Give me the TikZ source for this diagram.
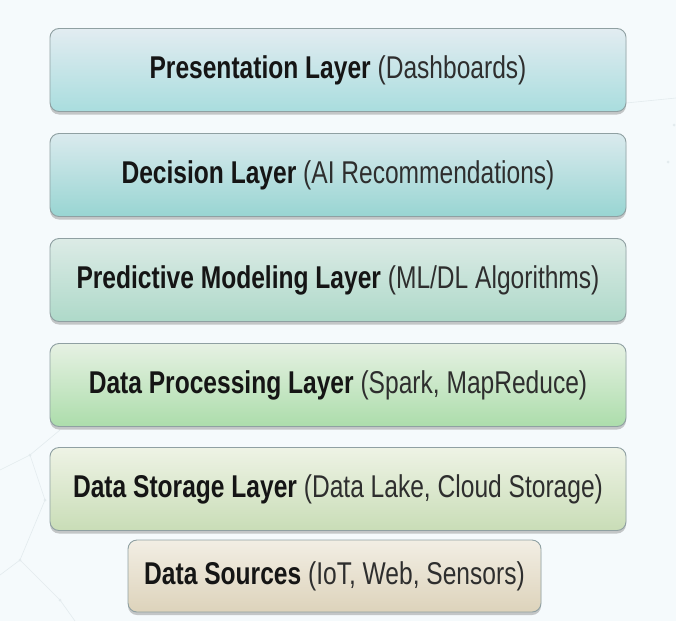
\documentclass[tikz,border=0pt]{standalone}
\usepackage{fontspec}
\newfontfamily\condfont[FakeStretch=0.78]{Liberation Sans}
\usetikzlibrary{shadows}
\definecolor{bgcol}{HTML}{F5FAFC}
\definecolor{bordercol}{HTML}{8FA0A2}
\definecolor{txtdark}{HTML}{151515}
\definecolor{txtreg}{HTML}{2E2E2E}
\definecolor{netcol}{HTML}{E3EBEE}
\definecolor{aT}{HTML}{E2ECF1}\definecolor{aB}{HTML}{A9DDDE}
\definecolor{bT}{HTML}{DAEAEE}\definecolor{bB}{HTML}{98D5D2}
\definecolor{cT}{HTML}{DCEBE6}\definecolor{cB}{HTML}{AED9C9}
\definecolor{dT}{HTML}{E6F1E3}\definecolor{dB}{HTML}{ACDDAB}
\definecolor{eT}{HTML}{EEF3E5}\definecolor{eB}{HTML}{C9DDB7}
\definecolor{fT}{HTML}{F2EEE4}\definecolor{fB}{HTML}{DDD3BB}
\tikzset{
  layerbox/.style={rounded corners=9pt, draw=bordercol, line width=0.9pt,
    minimum width=576pt, minimum height=83pt, inner sep=0pt,
    font=\condfont\fontsize{31.5}{34}\selectfont, text=txtreg,
    drop shadow={shadow xshift=0pt, shadow yshift=-3pt, opacity=0.35, fill=black!60}},
  netline/.style={draw=netcol, line width=0.6pt},
  netdot/.style={fill=netcol}
}
\newcommand{\hd}[1]{{\bfseries\color{txtdark}#1}}
\begin{document}
\begin{tikzpicture}[x=1pt,y=-1pt]
\fill[bgcol] (0,0) rectangle (676,621);
\useasboundingbox (0,0) rectangle (676,621);
% faint background network
\draw[netline] (0,470) -- (30,455) -- (45,500) -- (20,560) -- (0,575);
\draw[netline] (30,455) -- (60,430);
\draw[netline] (20,560) -- (60,600) -- (75,621);
\draw[netline] (626,103) -- (676,98);
\fill[netdot] (30,455) circle (1.5) (45,500) circle (1.5) (20,560) circle (1.5) (60,600) circle (1.5);
\fill[netdot] (674,125) circle (1.5) (668,162) circle (1.5);
\node[layerbox, top color=aT, bottom color=aB] (pres) at (338,70) {\hd{Presentation Layer} (Dashboards)};
\node[layerbox, top color=bT, bottom color=bB] (dec) at (338,175) {\hd{Decision Layer} (AI Recommendations)};
\node[layerbox, top color=cT, bottom color=cB] (pred) at (338,280) {\hd{Predictive Modeling Layer} (ML/DL Algorithms)};
\node[layerbox, top color=dT, bottom color=dB] (proc) at (338,385) {\hd{Data Processing Layer} (Spark, MapReduce)};
\node[layerbox, top color=eT, bottom color=eB] (stor) at (338,489) {\hd{Data Storage Layer} (Data Lake, Cloud Storage)};
\node[layerbox, top color=fT, bottom color=fB, minimum width=413pt, minimum height=72pt] (src) at (334.5,576) {\hd{Data Sources} (IoT, Web, Sensors)};
\end{tikzpicture}
\end{document}
